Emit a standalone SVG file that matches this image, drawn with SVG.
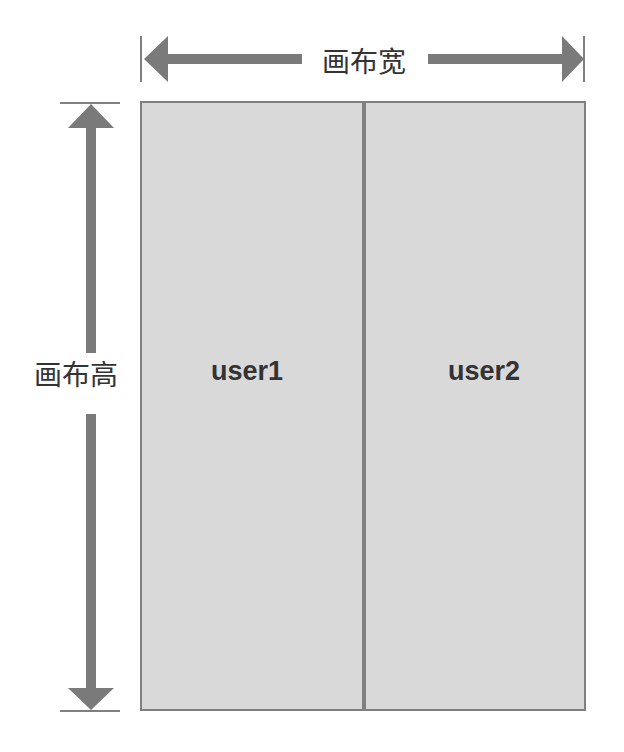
<svg xmlns="http://www.w3.org/2000/svg" width="624" height="752" viewBox="0 0 624 752">
<style>
.box{fill:#d9d9d9;stroke:#808080;stroke-width:2}
.tick{stroke:#808080;stroke-width:2;fill:none}
.arr{fill:#7a7a7a;stroke:none}
.lbl{font-family:"Liberation Sans","Noto Sans CJK SC",sans-serif;font-size:28px;fill:#333333;text-anchor:middle}
.user{font-family:"Liberation Sans",Arial,sans-serif;font-size:27px;font-weight:bold;fill:#333333;text-anchor:middle}
</style>
<rect width="624" height="752" fill="#ffffff"/>
<g id="user1">
<rect class="box" x="141" y="102" width="222" height="608"/>
<text class="user" x="247" y="380">user1</text>
</g>
<g id="user2">
<rect class="box" x="365" y="102" width="220" height="608"/>
<text class="user" x="484" y="380">user2</text>
</g>
<g id="connectors">
<line class="tick" x1="141" y1="36" x2="141" y2="82"/>
<line class="tick" x1="584" y1="36" x2="584" y2="82"/>
<polygon class="arr" points="144,59 168,36 168,54 302,54 302,64 168,64 168,82"/>
<polygon class="arr" points="584,59 562,36 562,54 428,54 428,64 562,64 562,82"/>
<line class="tick" x1="60" y1="103" x2="120" y2="103"/>
<line class="tick" x1="60" y1="711" x2="120" y2="711"/>
<polygon class="arr" points="91,104 68,128 86,128 86,353 96,353 96,128 114,128"/>
<polygon class="arr" points="91,710 68,688 86,688 86,414 96,414 96,688 114,688"/>
</g>
<g id="width-label">
<text class="lbl" x="364" y="72">画布宽</text>
</g>
<g id="height-label">
<text class="lbl" x="76" y="385">画布高</text>
</g>
</svg>
